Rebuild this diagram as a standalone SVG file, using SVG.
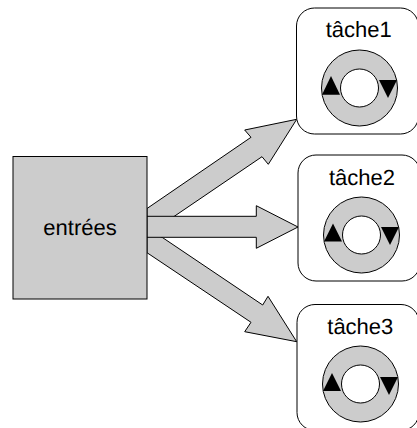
<svg xmlns="http://www.w3.org/2000/svg" width="417" height="428" viewBox="0 0 417 428">
<style>
.s{fill:#ccc;stroke:#000;stroke-width:1}
.b{fill:#fff;stroke:#000;stroke-width:1}
.k{fill:#000;stroke:none}
text{font-family:"Liberation Sans",Arial,sans-serif;font-size:22px;fill:#000;text-anchor:middle;text-rendering:geometricPrecision}
</style>
<rect width="417" height="428" fill="#fff"/>
<g id="connectors">
<polygon class="s" points="147,208.5 251,137.3 244.7,130 296.7,119.3 268.3,164.3 262,156.7 160,226 147,226"/>
<polygon class="s" points="147,252.7 251,322.3 244.7,331.7 296.7,341.7 268,296.3 262.7,305 162.7,237.7 147,230"/>
<polygon class="s" points="147,216.3 256.3,216.3 256.3,205.7 298,227 256.3,248.3 256.3,237.3 147,237.3"/>
</g>
<g id="entrees">
<rect class="s" x="13" y="156.5" width="134" height="142.5"/>
<text x="80" y="235">entrées</text>
</g>
<g id="tache1">
<rect class="b" x="296.5" y="8" width="122" height="126" rx="18"/>
<text x="358.7" y="36.7">tâche1</text>
<circle class="s" cx="359.5" cy="88" r="38"/>
<circle class="b" cx="359.5" cy="88" r="19"/>
<polygon class="k" points="331,76 340,94.7 322,94.7"/>
<polygon class="k" points="379,80 397,80 388,98"/>
</g>
<g id="tache2">
<rect class="b" x="298" y="155" width="122" height="126" rx="18"/>
<text x="362" y="185">tâche2</text>
<circle class="s" cx="361.5" cy="235" r="38"/>
<circle class="b" cx="361.5" cy="235" r="19"/>
<polygon class="k" points="333,223.5 342,241.5 324,241.5"/>
<polygon class="k" points="381,227 399,227 390,245"/>
</g>
<g id="tache3">
<rect class="b" x="297" y="304.5" width="122" height="126" rx="18"/>
<text x="360.3" y="334">tâche3</text>
<circle class="s" cx="360.5" cy="384" r="38"/>
<circle class="b" cx="360.5" cy="384" r="19"/>
<polygon class="k" points="332,373 341,391 323,391"/>
<polygon class="k" points="380,377 398,377 389,395"/>
</g>
</svg>
